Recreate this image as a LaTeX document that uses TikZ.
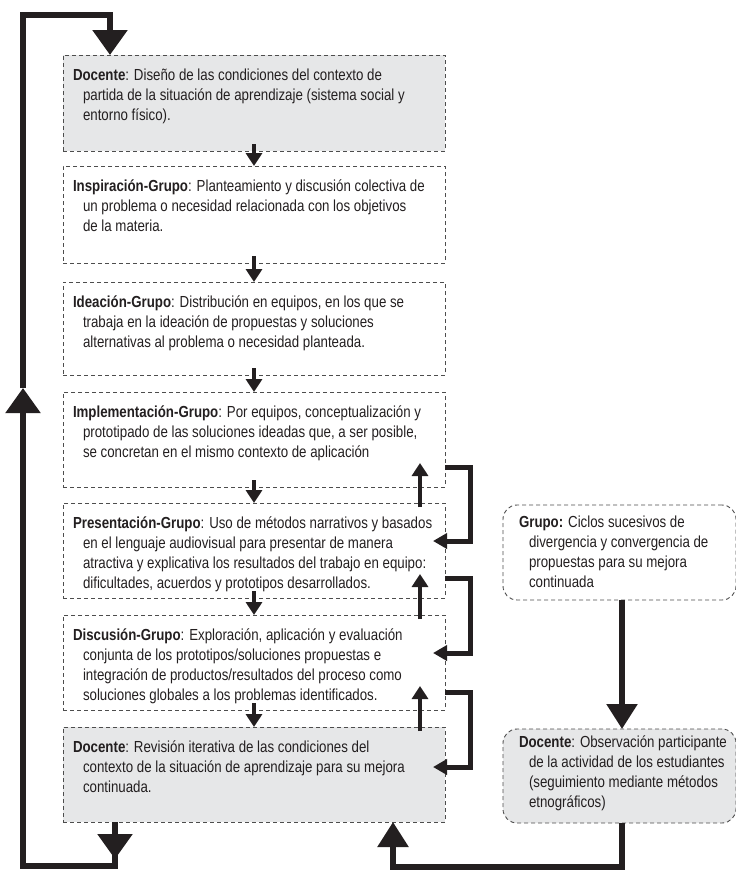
\documentclass[tikz,border=0pt]{standalone}
\usepackage{fontspec}
\setmainfont{Liberation Sans}[FakeStretch=0.83]
\usetikzlibrary{arrows.meta,calc}
\definecolor{boxgray}{HTML}{E6E7E8}
\definecolor{dashgray}{HTML}{4D4D4D}
\definecolor{ink}{HTML}{231F20}
\begin{document}
\begin{tikzpicture}[x=1pt,y=-1pt,
  mainbox/.style={draw=dashgray, dash pattern=on 4pt off 3pt, line width=0.9pt,
    minimum width=382pt, anchor=north west, inner sep=0pt, outer sep=0pt},
  sidebox/.style={mainbox, minimum width=233pt, rounded corners=14pt},
  graybox/.style={fill=boxgray},
  txt/.style={anchor=north west, inner sep=0pt, outer sep=0pt, align=left,
    text=ink, font=\fontsize{16pt}{20pt}\selectfont},
  loopline/.style={draw=ink, line width=5.5pt},
  bigtip/.style={-{Triangle[length=25pt,width=34pt]}},
  midtip/.style={-{Triangle[length=25pt,width=30pt]}},
  dn/.style={draw=ink, line width=4pt, -{Triangle[length=13pt,width=16pt]}},
  brk/.style={draw=ink, line width=5pt, -{Triangle[length=14pt,width=15pt]}}
]
\useasboundingbox (0,0) rectangle (736,870);

% main boxes
\node[mainbox, graybox, minimum height=96pt] (b1) at (63,55) {};
\node[mainbox, minimum height=97pt] (b2) at (63,166) {};
\node[mainbox, minimum height=93pt] (b3) at (63,282) {};
\node[mainbox, minimum height=95pt] (b4) at (63,392) {};
\node[mainbox, minimum height=95pt] (b5) at (63,503) {};
\node[mainbox, minimum height=95pt] (b6) at (63,615) {};
\node[mainbox, graybox, minimum height=95pt] (b7) at (63,727) {};

% side boxes
\node[sidebox, minimum height=95pt] (g1) at (503,505) {};
\node[sidebox, graybox, minimum height=94pt] (g2) at (503,729) {};

% texts
\node[txt] (t1) at ($(b1.north west)+(10,11)$) {\rule{0pt}{14pt}\textbf{Docente}: Diseño de las condiciones del contexto de\\
\hspace*{10pt}partida de la situación de aprendizaje (sistema social y\\
\hspace*{10pt}entorno físico).};
\node[txt] (t2) at ($(b2.north west)+(10,11)$) {\rule{0pt}{14pt}\textbf{Inspiración-Grupo}: Planteamiento y discusión colectiva de\\
\hspace*{10pt}un problema o necesidad relacionada con los objetivos\\
\hspace*{10pt}de la materia.};
\node[txt] (t3) at ($(b3.north west)+(10,11)$) {\rule{0pt}{14pt}\textbf{Ideación-Grupo}: Distribución en equipos, en los que se\\
\hspace*{10pt}trabaja en la ideación de propuestas y soluciones\\
\hspace*{10pt}alternativas al problema o necesidad planteada.};
\node[txt] (t4) at ($(b4.north west)+(10,11)$) {\rule{0pt}{14pt}\textbf{Implementación-Grupo}: Por equipos, conceptualización y\\
\hspace*{10pt}prototipado de las soluciones ideadas que, a ser posible,\\
\hspace*{10pt}se concretan en el mismo contexto de aplicación};
\node[txt] (t5) at ($(b5.north west)+(10,11)$) {\rule{0pt}{14pt}\textbf{Presentación-Grupo}: Uso de métodos narrativos y basados\\
\hspace*{10pt}en el lenguaje audiovisual para presentar de manera\\
\hspace*{10pt}atractiva y explicativa los resultados del trabajo en equipo:\\
\hspace*{10pt}dificultades, acuerdos y prototipos desarrollados.};
\node[txt] (t6) at ($(b6.north west)+(10,11)$) {\rule{0pt}{14pt}\textbf{Discusión-Grupo}: Exploración, aplicación y evaluación\\
\hspace*{10pt}conjunta de los prototipos/soluciones propuestas e\\
\hspace*{10pt}integración de productos/resultados del proceso como\\
\hspace*{10pt}soluciones globales a los problemas identificados.};
\node[txt] (t7) at ($(b7.north west)+(10,11)$) {\rule{0pt}{14pt}\textbf{Docente}: Revisión iterativa de las condiciones del\\
\hspace*{10pt}contexto de la situación de aprendizaje para su mejora\\
\hspace*{10pt}continuada.};
\node[txt] (t8) at ($(g1.north west)+(16,8)$) {\rule{0pt}{14pt}\textbf{Grupo:} Ciclos sucesivos de\\
\hspace*{10pt}divergencia y convergencia de\\
\hspace*{10pt}propuestas para su mejora\\
\hspace*{10pt}continuada};
\node[txt] (t9) at ($(g2.north west)+(16,4)$) {\rule{0pt}{14pt}\textbf{Docente}: Observación participante\\
\hspace*{10pt}de la actividad de los estudiantes\\
\hspace*{10pt}(seguimiento mediante métodos\\
\hspace*{10pt}etnográficos)};

% down arrows between boxes
\draw[dn] ($(b1.south)+(0,-7)$) -- (b2.north);
\draw[dn] ($(b2.south)+(0,-7)$) -- (b3.north);
\draw[dn] ($(b3.south)+(0,-7)$) -- (b4.north);
\draw[dn] ($(b4.south)+(0,-7)$) -- (b5.north);
\draw[dn] ($(b5.south)+(0,-7)$) -- (b6.north);
\draw[dn] ($(b6.south)+(0,-7)$) -- (b7.north);

% up arrows (feedback)
\draw[dn] ($(b5.north)+(166,4)$) -- ($(b4.south)+(166,-24)$);
\draw[dn] ($(b6.north)+(166,4)$) -- ($(b5.south)+(166,-24)$);
\draw[dn] ($(b7.north)+(166,4)$) -- ($(b6.south)+(166,-24)$);

% brackets
\draw[brk] ($(b4.south east)+(0,-20)$) -- ++(25,0) |- ($(b5.north east)+(-12,38)$);
\draw[brk] ($(b5.south east)+(0,-20)$) -- ++(25,0) |- ($(b6.north east)+(-12,38)$);
\draw[brk] ($(b6.south east)+(0,-18)$) -- ++(25,0) |- ($(b7.north east)+(-12,40)$);

% main loop
\coordinate (c1) at (115,866);
\coordinate (c2) at (23,866);
\coordinate (c3) at (23,388);
\coordinate (c4) at (23,15);
\coordinate (c5) at (110,15);
\draw[loopline, bigtip] (b7.south -| c1) -- ++(0,37);
\draw[loopline, bigtip] (b7.south -| c1) -- (c1) -- (c2) -- (c3);
\draw[loopline, bigtip] (c3) -- (c4) -- (c5) -- (b1.north -| c5);

% right loop
\coordinate (r1) at (622,867);
\coordinate (r2) at (393,867);
\draw[loopline, midtip] (g1.south -| r1) -- (g2.north -| r1);
\draw[loopline, midtip] (g2.south -| r1) -- (r1) -- (r2) -- (b7.south -| r2);
\end{tikzpicture}
\end{document}
